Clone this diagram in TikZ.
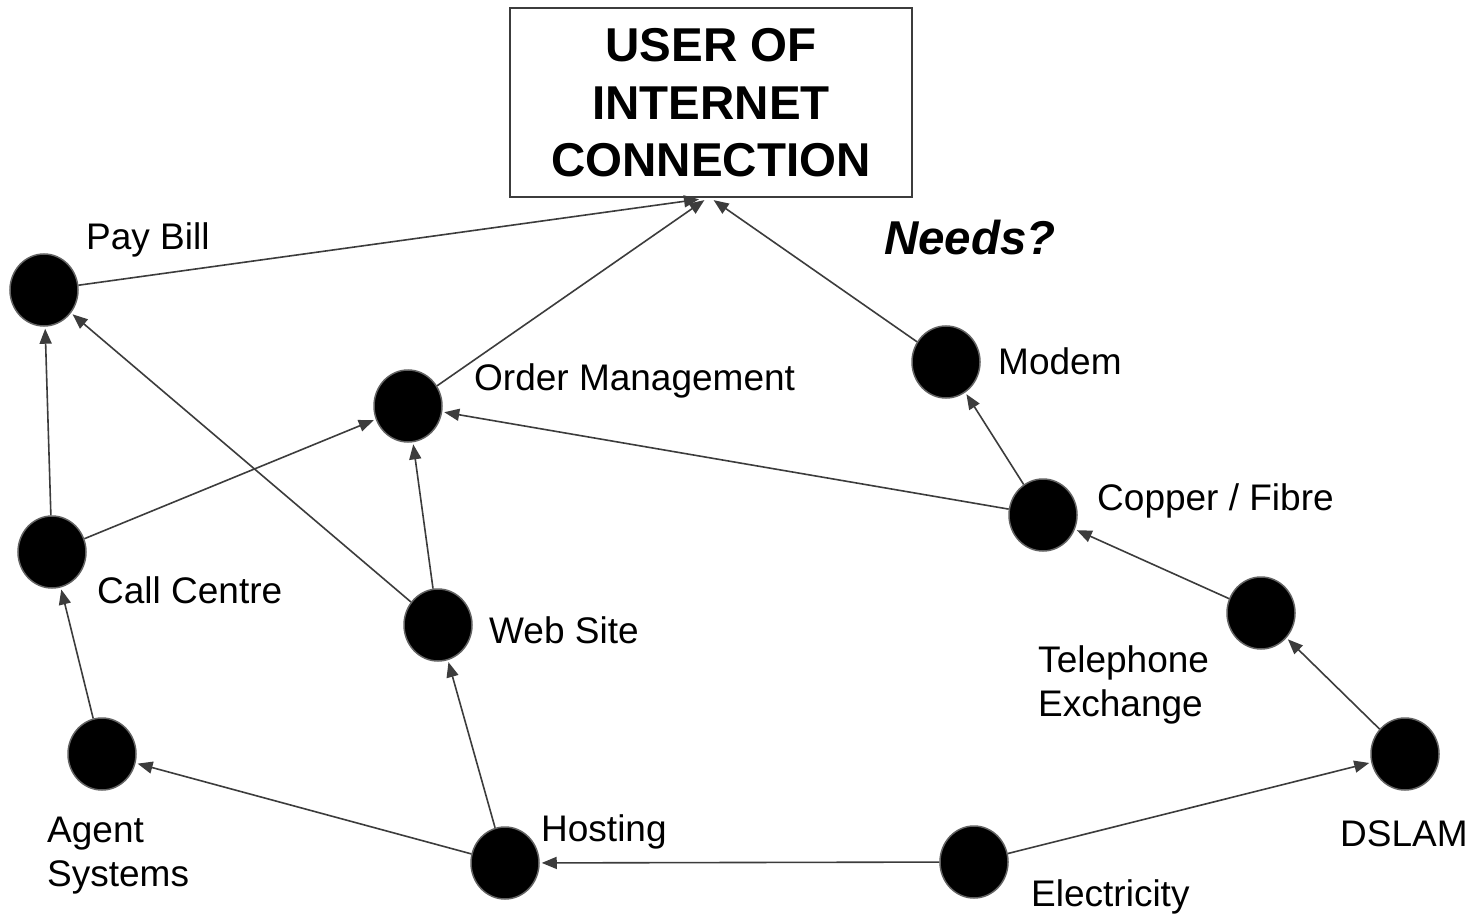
\documentclass[tikz,border=0pt]{standalone}
\usepackage{fontspec}
\setmainfont{Liberation Sans}
\usetikzlibrary{shapes.geometric,arrows.meta}
\definecolor{edgegray}{HTML}{3C3C3C}
\begin{document}
\begin{tikzpicture}[x=1pt,y=-1pt,
  dot/.style={ellipse,minimum width=68pt,minimum height=72pt,inner sep=0,fill=black,draw=edgegray!80,line width=1.5pt},
  lbl/.style={anchor=base west,inner sep=0,font=\fontsize{37}{43.5}\selectfont,align=left},
  conn/.style={draw=edgegray,line width=1.6pt,-{Triangle[length=15pt,width=12pt]},shorten >=2pt}]
\useasboundingbox (0,0) rectangle (1472,917);
\fill[white] (0,0) rectangle (1472,917);
% title box
\node[draw=edgegray,line width=1.3pt,minimum width=402pt,minimum height=189pt,inner sep=0] (user) at (711,102.5) {};
\node[inner sep=0,anchor=base,font=\fontsize{47.5}{57.5}\selectfont\bfseries] (t1) at (711,62) {USER OF};
\node[inner sep=0,anchor=base,font=\fontsize{47.5}{57.5}\selectfont\bfseries] (t2) at (711,120) {INTERNET};
\node[inner sep=0,anchor=base,font=\fontsize{47.5}{57.5}\selectfont\bfseries] (t3) at (711,177) {CONNECTION};
\node[inner sep=0,anchor=base west,font=\fontsize{47.5}{57.5}\selectfont\bfseries\itshape] (needs) at (884,255) {Needs?};
\coordinate (inA) at (701,199);
\coordinate (inB) at (706,199);
\coordinate (inC) at (712,199);
% dots
\node[dot] (pay) at (44,290) {};
\node[dot] (call) at (52,552) {};
\node[dot] (agent) at (102,754) {};
\node[dot] (order) at (408,406) {};
\node[dot] (web) at (438,625) {};
\node[dot] (host) at (505,863) {};
\node[dot] (elec) at (974,862) {};
\node[dot] (dslam) at (1405,754) {};
\node[dot] (tel) at (1261,613) {};
\node[dot] (copper) at (1043,515) {};
\node[dot] (modem) at (946,362) {};
% labels
\node[lbl] (lpay) at (86,250) {Pay Bill};
\node[lbl] (lorder) at (474,390) {Order Management};
\node[lbl] (lmodem) at (998,374) {Modem};
\node[lbl] (lcopper) at (1097,510) {Copper / Fibre};
\node[lbl] (lcall) at (97,603) {Call Centre};
\node[lbl] (lweb) at (489,643) {Web Site};
\node[lbl] (ltel) at (1038,716) {Telephone\\Exchange};
\node[lbl] (lagent) at (47,886) {Agent\\Systems};
\node[lbl] (lhost) at (541,841) {Hosting};
\node[lbl] (lelec) at (1031,906) {Electricity};
\node[lbl] (ldslam) at (1340,846) {DSLAM};
% connectors
\draw[conn] (pay) -- (inA);
\draw[conn] (order) -- (inB);
\draw[conn] (modem) -- (inC);
\draw[conn] (call) -- (pay);
\draw[conn] (call) -- (order);
\draw[conn] (web) -- (pay);
\draw[conn] (web) -- (order);
\draw[conn] (copper) -- (order);
\draw[conn] (copper) -- (modem);
\draw[conn] (tel) -- (copper);
\draw[conn] (dslam) -- (tel);
\draw[conn] (elec) -- (dslam);
\draw[conn] (elec) -- (host);
\draw[conn] (host) -- (web);
\draw[conn] (host) -- (agent);
\draw[conn] (agent) -- (call);
\end{tikzpicture}
\end{document}
